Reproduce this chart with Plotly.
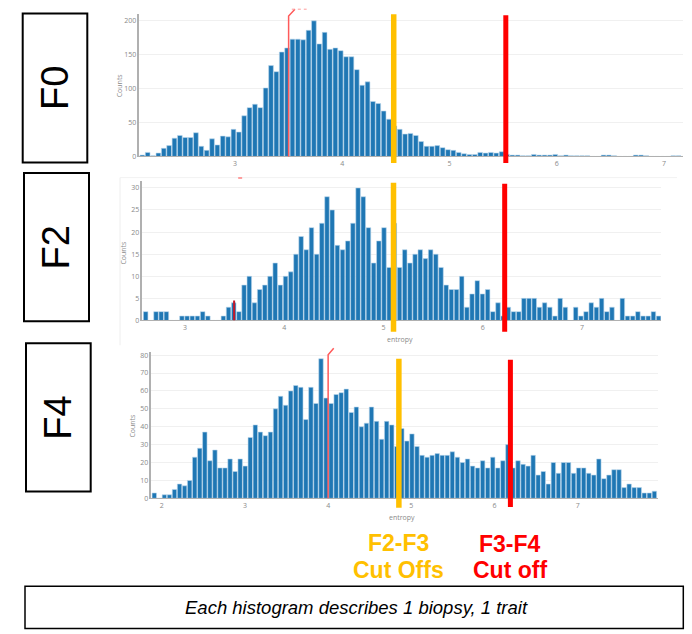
import plotly.graph_objects as go

W, H = 692, 634

# ---------------- data ----------------
# F0 histogram (entropy counts)
f0_first_bin = 2.136
f0_bin_width = 0.05
f0_counts = [2, 6, 1, 5, 12, 16, 27, 31, 28, 28,
             35, 15, 9, 26, 17, 30, 29, 40, 36, 60,
             72, 77, 72, 101, 134, 125, 154, 160, 173, 173,
             172, 186, 200, 166, 183, 158, 160, 156, 147, 147,
             128, 105, 110, 81, 78, 67, 55, 45, 40, 33,
             34, 31, 22, 15, 15, 16, 13, 10, 9, 6,
             4, 3, 3, 6, 5, 6, 5, 7, 3, 2,
             2, 1, 1, 3, 2, 2, 2, 3, 1, 2,
             1, 1, 1, 1, 0, 0, 2, 2, 1, 0,
             0, 0, 2, 2, 1, 0, 0, 0, 0, 1, 1, 0]

# F2 histogram
f2_first_bin = 2.603
f2_bin_width = 0.0522
f2_counts = [2, 0, 2, 2, 2, 0, 0, 1, 1, 1,
             1, 2, 1, 0, 0, 1, 3, 4, 2, 8,
             10, 4, 7, 8, 10, 13, 8, 10, 11, 15,
             19, 16, 21, 15, 22, 28, 25, 17, 16, 18,
             22, 30, 28, 21, 13, 18, 21, 12, 22, 12,
             16, 13, 15, 16, 14, 16, 15, 12, 8, 7,
             7, 10, 3, 6, 9, 6, 7, 2, 4, 1,
             3, 2, 2, 5, 5, 5, 3, 4, 3, 1,
             5, 3, 0, 3, 1, 2, 4, 3, 5, 2,
             3, 0, 5, 1, 1, 2, 1, 1, 2, 1]

# F4 histogram
f4_first_bin = 1.911
f4_bin_width = 0.0607
f4_counts = [3, 0, 2, 2, 5, 8, 7, 10, 23, 28,
             37, 21, 27, 17, 17, 22, 15, 22, 18, 34,
             41, 37, 35, 37, 50, 57, 52, 60, 63, 62,
             44, 62, 53, 78, 56, 53, 58, 59, 61, 48,
             51, 40, 42, 51, 43, 33, 43, 41, 29, 39,
             32, 36, 29, 24, 23, 24, 25, 24, 24, 26,
             23, 20, 22, 18, 17, 21, 17, 23, 17, 21,
             30, 17, 21, 19, 18, 24, 13, 15, 8, 20,
             14, 20, 20, 14, 17, 17, 14, 13, 22, 11,
             13, 16, 16, 6, 8, 6, 6, 3, 3, 4]

# cut-off positions (entropy) per panel
yellow_cut = [4.48, 5.10, 4.85]   # F2-F3 cut offs
red_cut = [5.525, 6.22, 6.19]     # F3-F4 cut off
thin_marker = [3.5, 3.494, 4.0]   # thin red marker line

panel_labels = ["F0", "F2", "F4"]

# ---------------- helpers ----------------
def px(x):
    return x / W

def py(y):
    return 1 - y / H

BAR = "#1f77b4"
EDGE = "#bcd6ec"
YEL = "#FFC000"
RED = "#FF0000"

fig = go.Figure()

fig.add_trace(go.Bar(x0=f0_first_bin, dx=f0_bin_width, y=f0_counts,
                     xaxis="x", yaxis="y",
                     marker=dict(color=BAR, line=dict(color=EDGE, width=0.6))))
fig.add_trace(go.Bar(x0=f2_first_bin, dx=f2_bin_width, y=f2_counts,
                     xaxis="x2", yaxis="y2",
                     marker=dict(color=BAR, line=dict(color=EDGE, width=0.6))))
fig.add_trace(go.Bar(x0=f4_first_bin, dx=f4_bin_width, y=f4_counts,
                     xaxis="x3", yaxis="y3",
                     marker=dict(color=BAR, line=dict(color=EDGE, width=0.6))))

tickfont = dict(family="Open Sans", size=7, color="#8a8a8a")

def xax(domain, rng, anchor):
    return dict(domain=domain, range=rng, anchor=anchor, dtick=1, showgrid=False,
                zeroline=False, showline=True, linecolor="#b0b0b0", linewidth=1,
                ticks="", tickfont=tickfont, fixedrange=True)

def yax(domain, rng, anchor, dtick):
    return dict(domain=domain, range=rng, anchor=anchor, dtick=dtick, showgrid=True,
                gridcolor="#f0f0f0", gridwidth=1, zeroline=False, showline=True,
                linecolor="#b0b0b0", linewidth=1.5, ticks="", tickfont=tickfont,
                fixedrange=True)

# panel geometry (pixels)
p0 = dict(l=139.3, r=683, t=13, b=156.7)
p2 = dict(l=142.3, r=661, t=181.7, b=322)
p4 = dict(l=151.3, r=657.7, t=353.3, b=501.3)

fig.update_layout(
    width=W, height=H, autosize=False,
    margin=dict(l=0, r=0, t=0, b=0),
    paper_bgcolor="white", plot_bgcolor="white",
    showlegend=False, bargap=0.12,
    xaxis=xax([px(p0["l"]), px(p0["r"])], [2.108, 7.177], "y"),
    yaxis=yax([py(p0["b"]), py(p0["t"])], [0, 210.2], "x", 50),
    xaxis2=xax([px(p2["l"]), px(p2["r"])], [2.569, 7.795], "y2"),
    yaxis2=yax([py(p2["b"]), py(p2["t"])], [0, 31.5], "x2", 5),
    xaxis3=xax([px(p4["l"]), px(p4["r"])], [1.875, 7.96], "y3"),
    yaxis3=yax([py(p4["b"]), py(p4["t"])], [0, 82], "x3", 10),
)

shapes = []
# faint screenshot frame around F2
shapes.append(dict(type="line", xref="paper", yref="paper", x0=px(120), x1=px(120),
                   y0=py(178), y1=py(347), line=dict(color="#eeeeee", width=1)))
shapes.append(dict(type="line", xref="paper", yref="paper", x0=px(120), x1=px(677),
                   y0=py(178), y1=py(178), line=dict(color="#f2f2f2", width=1)))

# thin red marker lines
shapes.append(dict(type="path", xref="x", yref="y domain",
                   path=f"M {thin_marker[0]} 0 L {thin_marker[0]} 0.985 L 3.559 1.033",
                   line=dict(color="#ff5a5a", width=1.5)))
shapes.append(dict(type="line", xref="x", yref="y domain", x0=3.53, x1=3.668,
                   y0=1.033, y1=1.033, line=dict(color="#ff9a9a", width=1, dash="dot")))
shapes.append(dict(type="line", xref="x2", yref="y2", x0=thin_marker[1], x1=thin_marker[1],
                   y0=0, y1=4.5, line=dict(color="#c0182a", width=2)))
shapes.append(dict(type="line", xref="x2", yref="paper", x0=3.535, x1=3.575,
                   y0=py(178.3), y1=py(178.3), line=dict(color="#ff8080", width=1.5)))
shapes.append(dict(type="path", xref="x3", yref="y3 domain",
                   path=f"M {thin_marker[2]} 0 L {thin_marker[2]} 0.977 L 4.067 1.022",
                   line=dict(color="#ff5a5a", width=1.5)))

# cut-off lines
cut_spans = [
    ("x", (13.3, 163.3), (14.3, 163.3)),
    ("x2", (183.3, 333.3), (184.3, 333.3)),
    ("x3", (360.7, 510.7), (361.7, 510.0)),
]
for i, (xr, ys, rs) in enumerate(cut_spans):
    shapes.append(dict(type="line", xref=xr, yref="paper", x0=yellow_cut[i], x1=yellow_cut[i],
                       y0=py(ys[1]), y1=py(ys[0]), line=dict(color=YEL, width=5.5)))
    shapes.append(dict(type="line", xref=xr, yref="paper", x0=red_cut[i], x1=red_cut[i],
                       y0=py(rs[1]), y1=py(rs[0]), line=dict(color=RED, width=5)))

# label boxes
boxes = [(22.7, 12.7, 87.3, 162.7), (24, 173.3, 89, 322.7), (26, 345, 90.7, 494.3)]
for (x0, y0, x1, y1) in boxes:
    shapes.append(dict(type="rect", xref="paper", yref="paper", x0=px(x0), x1=px(x1),
                       y0=py(y1), y1=py(y0), line=dict(color="black", width=2),
                       fillcolor="rgba(0,0,0,0)"))
# bottom caption box
shapes.append(dict(type="rect", xref="paper", yref="paper", x0=px(25), x1=px(683.3),
                   y0=py(632.5), y1=py(590), line=dict(color="black", width=1.5),
                   fillcolor="rgba(0,0,0,0)"))

fig.update_layout(shapes=shapes)

ann = []
def add_text(text, x, y, size, color, family="Liberation Sans", angle=0):
    ann.append(dict(text=text, xref="paper", yref="paper", x=px(x), y=py(y),
                    xanchor="center", yanchor="middle", showarrow=False, textangle=angle,
                    font=dict(family=family, size=size, color=color)))

small = "#8a8a8a"
add_text("Counts", 119, 85, 7, small, "Open Sans", -90)
add_text("Counts", 123.3, 253.3, 7, small, "Open Sans", -90)
add_text("Counts", 132.7, 428.3, 7, small, "Open Sans", -90)
add_text("entropy", 400, 340.7, 7, small, "Open Sans")
add_text("entropy", 401.7, 521, 7, small, "Open Sans")

for lab, (x0, y0, x1, y1) in zip(panel_labels, boxes):
    add_text(lab, (x0 + x1) / 2, (y0 + y1) / 2, 38, "black", "Liberation Sans", -90)

add_text("<b>F2-F3</b>", 398.3, 546, 23, YEL)
add_text("<b>Cut Offs</b>", 398.3, 573.5, 23, YEL)
add_text("<b>F3-F4</b>", 510, 547, 23, RED)
add_text("<b>Cut off</b>", 510, 574, 23, RED)
add_text("<i>Each histogram describes 1 biopsy, 1 trait</i>", 356, 611, 18.5, "black")

fig.update_layout(annotations=ann)

fig.write_html("out.html")
